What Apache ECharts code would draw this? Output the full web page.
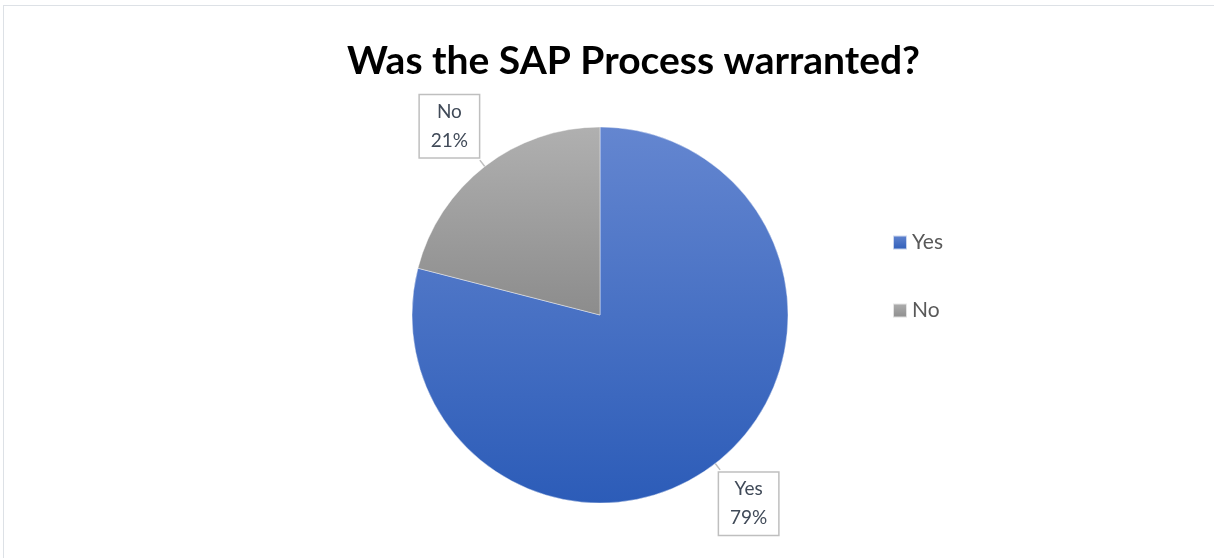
<!DOCTYPE html>
<html>
<head>
<meta charset="utf-8">
<script src="https://cdn.jsdelivr.net/npm/echarts@6/dist/echarts.min.js"></script>
<style>
  html, body { margin: 0; padding: 0; background: #ffffff; }
  #frame { position: absolute; left: 3px; top: 5px; width: 1300px; height: 700px;
           border-left: 1.5px solid #dde1e6; border-top: 1.5px solid #dde1e6; }
  #chart { position: absolute; left: 0; top: 0; width: 1214px; height: 558px; }
</style>
</head>
<body>
<div id="frame"></div>
<div id="chart"></div>
<script>
// Survey answers and their shares (percent)
const categories = ['Yes', 'No'];
const shares = [79, 21];
const titleText = 'Was the SAP Process warranted?';

// Vertical fills for each answer: [top colour, bottom colour]
const fills = {
  Yes: ['#6486d0', '#2c5cb8'],
  No:  ['#b0b0b0', '#8c8c8c']
};

const chart = echarts.init(document.getElementById('chart'), null, { renderer: 'canvas' });

const seriesData = categories.map((name, i) => ({
  name: name,
  value: shares[i],
  itemStyle: {
    color: new echarts.graphic.LinearGradient(0, 0, 0, 1, [
      { offset: 0, color: fills[name][0] },
      { offset: 1, color: fills[name][1] }
    ])
  }
}));

// Callout box offsets relative to the default outside label spot
const calloutShift = { Yes: { dx: -6, dy: 34 }, No: { dx: 4, dy: -34 } };

chart.setOption({
  backgroundColor: 'transparent',
  animation: false,
  title: {
    text: titleText,
    left: 342,
    top: 37,
    textStyle: {
      fontFamily: 'Lato',
      fontWeight: 'bold',
      fontSize: 39,
      color: '#000000'
    }
  },
  legend: {
    orient: 'vertical',
    left: 892,
    top: 232,
    padding: 0,
    itemWidth: 14,
    itemHeight: 14,
    itemGap: 47,
    icon: 'rect',
    data: categories,
    textStyle: { fontFamily: 'Lato', fontSize: 21, color: '#595959' }
  },
  series: [{
    type: 'pie',
    center: [600, 315],
    radius: 188,
    startAngle: 90,
    clockwise: true,
    data: seriesData,
    itemStyle: { borderColor: 'rgba(255,255,255,0.7)', borderWidth: 0.6 },
    label: {
      show: true,
      position: 'outside',
      formatter: p => '{c|' + p.name + '}\n{c|' + Math.round(p.percent) + '%}',
      rich: {
        c: {
          fontFamily: 'Lato',
          fontSize: 19,
          lineHeight: 29,
          color: '#404a58',
          width: 41,
          align: 'center'
        }
      },
      backgroundColor: '#ffffff',
      borderColor: '#bfbfbf',
      borderWidth: 1.5,
      padding: [2, 9, 2, 9]
    },
    labelLine: {
      show: true,
      length: 8,
      length2: 0,
      lineStyle: { color: '#bfbfbf', width: 1.5 }
    },
    labelLayout: params => {
      const s = calloutShift[categories[params.dataIndex]];
      return { dx: s.dx, dy: s.dy };
    }
  }]
});
</script>
</body>
</html>
